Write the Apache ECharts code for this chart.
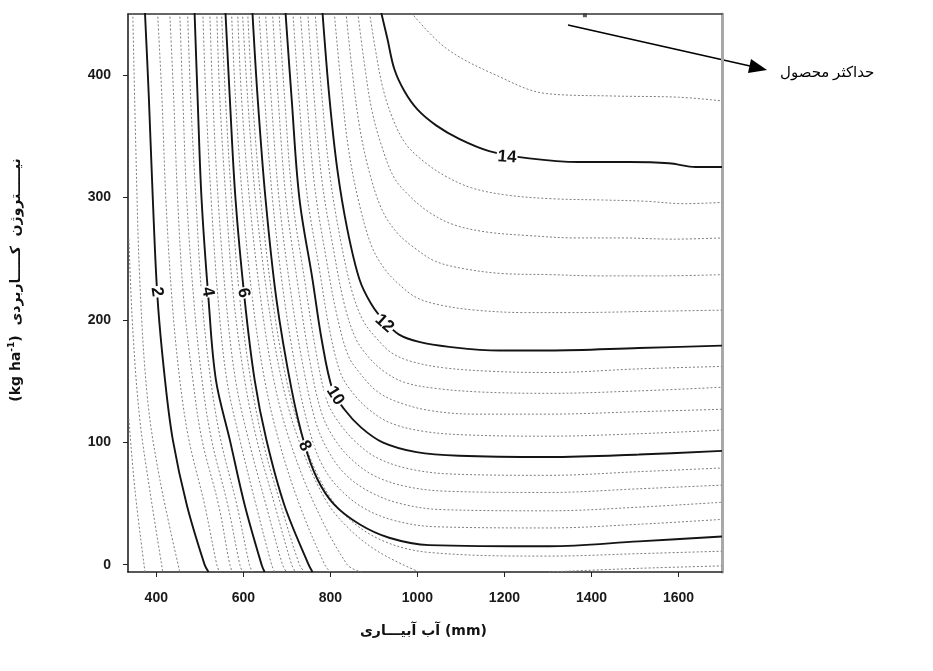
<!DOCTYPE html>
<html><head><meta charset="utf-8">
<script src="https://cdn.jsdelivr.net/npm/echarts@6/dist/echarts.min.js"></script>
<style>html,body{margin:0;padding:0;background:#fff}#c{width:933px;height:671px}</style>
</head><body><div id="c"></div>
<script>
// Axis ticks
const xTicks = [400, 600, 800, 1000, 1200, 1400, 1600];
const yTicks = [0, 100, 200, 300, 400];

// Contour lines [irrigation water (mm), applied nitrogen (kg/ha)], level = yield
const lv0_8 = [[337,119],[351,61],[374,-6]];
const lv1_2 = [[337,266],[346,192],[362,119],[385,61],[415,-6]];
const lv1_6 = [[346,451],[353,340],[362,233],[380,135],[408,70],[454,-6]];
const lv2   = [[374,451],[383,381],[392,299],[403,217],[420,151],[438,102],[470,49],[511,0],[520,-6]];
const lv2_4 = [[403,451],[413,381],[422,299],[436,217],[454,151],[475,102],[511,49],[539,0],[545,-6]];
const lv2_8 = [[431,451],[440,381],[449,299],[463,217],[484,151],[505,102],[543,49],[569,0],[575,-6]];
const lv3_2 = [[454,451],[461,381],[470,299],[486,217],[505,151],[527,102],[564,49],[592,0],[598,-6]];
const lv3_6 = [[472,451],[479,381],[491,299],[505,217],[525,151],[548,102],[585,49],[614,0],[621,-6]];
const lv4   = [[488,451],[495,381],[504,299],[520,217],[537,151],[569,102],[603,49],[642,0],[649,-6]];
const lv4_4 = [[507,451],[514,381],[526,299],[542,217],[562,151],[592,102],[629,49],[665,0],[672,-6]];
const lv4_8 = [[523,451],[530,381],[542,299],[560,217],[582,151],[612,102],[652,49],[690,0],[699,-6]];
const lv5_2 = [[539,451],[546,381],[560,299],[578,217],[603,151],[631,102],[672,49],[711,0],[720,-6]];
const lv5_6 = [[550,451],[559,381],[573,299],[592,217],[617,151],[644,102],[686,49],[729,0],[741,-6]];
const lv6   = [[559,451],[569,381],[582,299],[603,217],[626,151],[653,102],[694,49],[750,0],[759,-6]];
const lv6_4 = [[573,451],[582,381],[598,299],[621,217],[649,151],[681,102],[729,49],[787,0],[800,-6]];
const lv6_8 = [[587,451],[596,381],[614,299],[640,217],[670,151],[706,102],[764,49],[839,0],[871,-6]];
const lv7_2 = [[598,451],[610,381],[628,299],[656,217],[688,151],[727,102],[789,53],[844,29],[913,10],[1004,-6]];
const lv7_2b = [[1302,-6],[1509,-3],[1700,-1]];
const lv7_6 = [[610,451],[621,381],[640,299],[667,217],[699,151],[738,102],[789,61],[844,37],[924,19],[1027,10],[1302,7],[1509,9],[1700,11]];
const lv8   = [[621,451],[633,381],[651,299],[676,217],[711,143],[741,98],[770,70],[809,49],[867,33],[935,22],[1027,16],[1302,15],[1509,19],[1700,23]];
const lv8_4 = [[636,451],[649,381],[667,299],[693,220],[725,151],[754,107],[782,81],[821,62],[878,46],[948,36],[1041,31],[1302,30],[1509,33],[1700,37]];
const lv8_8 = [[651,451],[664,381],[682,299],[709,223],[739,159],[767,116],[795,93],[834,74],[888,60],[960,50],[1055,45],[1302,44],[1509,47],[1700,51]];
const lv9_2 = [[667,451],[680,381],[698,299],[726,227],[752,168],[779,125],[807,104],[846,87],[899,73],[973,64],[1068,60],[1302,59],[1509,62],[1700,65]];
const lv9_6 = [[682,451],[695,381],[713,299],[742,230],[766,176],[792,134],[820,116],[859,100],[909,87],[985,78],[1082,74],[1302,73],[1509,76],[1700,79]];
const lv10  = [[697,451],[711,381],[729,299],[759,233],[780,184],[805,143],[832,127],[871,112],[920,100],[998,92],[1096,89],[1302,88],[1509,90],[1700,93]];
const lv10_4 = [[714,451],[728,381],[746,304],[775,241],[797,194],[823,157],[850,141],[888,127],[937,116],[1013,109],[1114,106],[1302,105],[1509,107],[1700,110]];
const lv10_8 = [[731,451],[746,381],[764,309],[791,249],[815,204],[841,171],[869,156],[906,142],[954,133],[1028,126],[1133,123],[1302,123],[1509,125],[1700,127]];
const lv11_2 = [[748,451],[763,381],[781,313],[807,258],[832,213],[858,185],[887,170],[923,158],[970,149],[1043,144],[1151,141],[1302,140],[1509,142],[1700,145]];
const lv11_6 = [[765,451],[781,381],[799,318],[823,266],[850,223],[876,199],[906,185],[941,173],[987,166],[1058,161],[1170,158],[1302,157],[1509,160],[1700,162]];
const lv12  = [[782,451],[798,381],[816,323],[839,274],[867,233],[894,213],[924,199],[958,188],[1004,182],[1073,178],[1188,175],[1302,175],[1509,177],[1700,179]];
const lv12_4 = [[809,451],[825,391],[842,339],[865,297],[894,261],[924,242],[958,229],[999,218],[1055,212],[1133,208],[1248,206],[1357,206],[1535,207],[1700,208]];
const lv12_8 = [[836,451],[851,401],[868,356],[891,319],[920,289],[954,271],[993,259],[1041,248],[1105,242],[1192,238],[1307,237],[1412,236],[1561,236],[1700,237]];
const lv13_2 = [[863,451],[878,410],[895,372],[918,342],[947,316],[983,301],[1027,288],[1082,278],[1156,272],[1252,269],[1367,267],[1468,267],[1588,266],[1700,267]];
const lv13_6 = [[890,451],[904,420],[921,389],[944,364],[973,344],[1013,330],[1062,318],[1124,308],[1206,302],[1311,299],[1426,298],[1523,297],[1614,295],[1700,296]];
const lv14  = [[917,451],[931,430],[947,405],[970,387],[1000,372],[1043,359],[1096,348],[1165,338],[1257,332],[1371,329],[1486,329],[1578,328],[1640,325],[1700,325]];
const lv14_4 = [[986,451],[1066,422],[1181,400],[1296,385],[1447,383],[1600,382],[1700,379]];

// Contour labels
const labelText = ['2', '4', '6', '8', '10', '12', '14'];
const labelW = [401, 518, 600, 741, 811, 924, 1206];
const labelN = [223, 223, 222, 97, 138, 197, 333];

// Maximum yield point
const maxPoint = [[1385, 449]];

const contours = [
  [0.8, lv0_8], [1.2, lv1_2], [1.6, lv1_6], [2, lv2], [2.4, lv2_4], [2.8, lv2_8], [3.2, lv3_2], [3.6, lv3_6],
  [4, lv4], [4.4, lv4_4], [4.8, lv4_8], [5.2, lv5_2], [5.6, lv5_6], [6, lv6], [6.4, lv6_4], [6.8, lv6_8],
  [7.2, lv7_2], [7.2, lv7_2b], [7.6, lv7_6], [8, lv8], [8.4, lv8_4], [8.8, lv8_8], [9.2, lv9_2], [9.6, lv9_6],
  [10, lv10], [10.4, lv10_4], [10.8, lv10_8], [11.2, lv11_2], [11.6, lv11_6], [12, lv12], [12.4, lv12_4],
  [12.8, lv12_8], [13.2, lv13_2], [13.6, lv13_6], [14, lv14], [14.4, lv14_4]
];

const series = contours.map(([lvl, pts]) => {
  const solid = Math.abs(lvl / 2 - Math.round(lvl / 2)) < 1e-6;
  return {
    type: 'line', name: String(lvl), data: pts, smooth: 0.35, showSymbol: false, silent: true,
    z: solid ? 3 : 2,
    lineStyle: solid ? { color: '#141414', width: 1.9 } : { color: '#7d7d7d', width: 1, type: [2, 2] }
  };
});

const labelRot = [-82, -80, -76, -62, -58, -42, -4];
series.push({
  type: 'scatter', symbolSize: 1, z: 5, silent: true,
  itemStyle: { color: '#fff', opacity: 0 },
  data: labelText.map((t, i) => ({
    value: [labelW[i], labelN[i]],
    label: { show: true, formatter: t, rotate: labelRot[i], position: 'inside',
      fontFamily: 'Liberation Sans, Arial, sans-serif', fontWeight: 'bold', fontSize: 17, color: '#111',
      textBorderWidth: 0, textBorderColor: 'transparent', opacity: 1,
      backgroundColor: '#fff', padding: [0, 1] }
  }))
});
series.push({
  type: 'scatter', data: maxPoint, symbol: 'rect', symbolSize: [4, 4], z: 6, silent: true,
  itemStyle: { color: '#333' }
});

const axisFont = { fontFamily: 'Liberation Sans, Arial, sans-serif', fontWeight: 'bold', fontSize: 14, color: '#1a1a1a' };

const option = {
  animation: false,
  backgroundColor: '#fff',
  grid: { left: 128, right: 211, top: 14, bottom: 99, containLabel: false },
  xAxis: [{
    type: 'value', min: 335, max: 1700, position: 'bottom',
    axisLine: { show: true, onZero: false, lineStyle: { color: '#222', width: 1.6 } },
    axisTick: { show: true, customValues: xTicks, length: 5, lineStyle: { color: '#222' } },
    axisLabel: Object.assign({ customValues: xTicks, margin: 19, formatter: v => String(v) }, axisFont),
    splitLine: { show: false }
  }, {
    type: 'value', min: 335, max: 1700, position: 'top',
    axisLine: { show: true, onZero: false, lineStyle: { color: '#333', width: 1.5 } },
    axisTick: { show: false }, axisLabel: { show: false }, splitLine: { show: false }
  }],
  yAxis: [{
    type: 'value', min: -6, max: 450, position: 'left',
    axisLine: { show: true, onZero: false, lineStyle: { color: '#222', width: 1.6 } },
    axisTick: { show: true, customValues: yTicks, length: 5, lineStyle: { color: '#222' } },
    axisLabel: Object.assign({ customValues: yTicks, margin: 17, formatter: v => String(v) }, axisFont),
    splitLine: { show: false }
  }, {
    type: 'value', min: -6, max: 450, position: 'right',
    axisLine: { show: true, onZero: false, lineStyle: { color: '#a8a8a8', width: 3 } },
    axisTick: { show: false }, axisLabel: { show: false }, splitLine: { show: false }
  }],
  series: series,
  graphic: [
    { type: 'line', shape: { x1: 568, y1: 25, x2: 750, y2: 66 }, style: { stroke: '#000', lineWidth: 1.6 } },
    { type: 'polygon', shape: { points: [[767, 70], [748, 73], [751, 59]] }, style: { fill: '#000' } },
    { type: 'text', left: 780, top: 66, style: { text: 'حداکثر محصول', font: '15px "Liberation Serif", "DejaVu Serif", "DejaVu Sans", serif', fill: '#000' } },
    { type: 'text', left: 360, top: 624, style: { text: 'آب آبیـــاری (mm)', font: 'bold 14px "DejaVu Sans", sans-serif', fill: '#111' } },
    { type: 'text', x: 16, y: 280, rotation: Math.PI / 2,
      style: {
        text: '{a|(kg ha}{s|-1}{a|)  نیـــــتروژن  کـــــاربردی}',
        align: 'center', verticalAlign: 'middle',
        rich: {
          a: { font: 'bold 14px "DejaVu Sans", sans-serif', fill: '#111' },
          s: { font: 'bold 9px "DejaVu Sans", sans-serif', fill: '#111', padding: [0, 0, 9, 0] }
        }
      } }
  ]
};
const chart = echarts.init(document.getElementById('c'));
chart.setOption(option);
</script></body></html>
